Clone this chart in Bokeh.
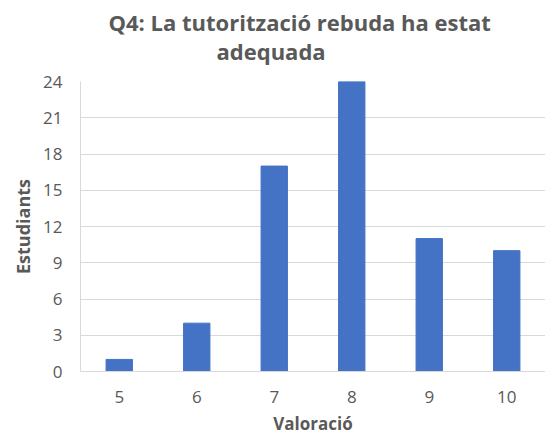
from bokeh.plotting import figure
from bokeh.models import Title, FixedTicker, Range1d
from bokeh.embed import file_html
from bokeh.resources import INLINE

categories = ["5", "6", "7", "8", "9", "10"]
students = [1, 4, 17, 24, 11, 10]
y_ticks = [0, 3, 6, 9, 12, 15, 18, 21, 24]
title_line1 = "Q4: La tutorització rebuda ha estat"
title_line2 = "adequada"

GRAY = "#595959"
FONT = "Open Sans"

p = figure(x_range=categories, y_range=Range1d(0, 24), width=545, height=437,
           output_backend="svg", toolbar_location=None,
           min_border_left=80, min_border_right=0, min_border_top=81, min_border_bottom=65)
p.x_range.range_padding = 0

p.vbar(x=categories, top=students, width=0.34, color="#4472C4")

p.title.visible = False
t2 = Title(text=title_line2, align="left", offset=136, text_font=FONT,
           text_font_size="22px", text_font_style="bold", text_color=GRAY, standoff=31)
t1 = Title(text=title_line1, align="left", offset=28, text_font=FONT,
           text_font_size="22px", text_font_style="bold", text_color=GRAY, standoff=-36)
p.add_layout(t2, "above")
p.add_layout(t1, "above")

p.outline_line_color = None
p.background_fill_color = "white"
p.border_fill_color = "white"

p.xgrid.grid_line_color = None
p.ygrid.grid_line_color = "#d9d9d9"
p.ygrid.grid_line_width = 1

p.yaxis.ticker = FixedTicker(ticks=y_ticks)
for ax in (p.xaxis[0], p.yaxis[0]):
    ax.major_tick_line_color = None
    ax.minor_tick_line_color = None
    ax.axis_line_color = "#d9d9d9"
    ax.major_label_text_color = GRAY
    ax.major_label_text_font = FONT
    ax.major_label_text_font_size = "17px"
    ax.axis_label_text_color = GRAY
    ax.axis_label_text_font = FONT
    ax.axis_label_text_font_style = "bold"
    ax.axis_label_text_line_height = 1.0
    ax.major_label_text_line_height = 1.0

p.xaxis.axis_label = "Valoració"
p.yaxis.axis_label = "Estudiants"
p.xaxis.axis_label_text_font_size = "17px"
p.yaxis.axis_label_text_font_size = "18px"
p.xaxis.major_label_standoff = 13
p.yaxis.major_label_standoff = 12
p.xaxis.axis_label_standoff = 6
p.yaxis.axis_label_standoff = 5

open("out.html", "w").write(file_html(p, INLINE))
